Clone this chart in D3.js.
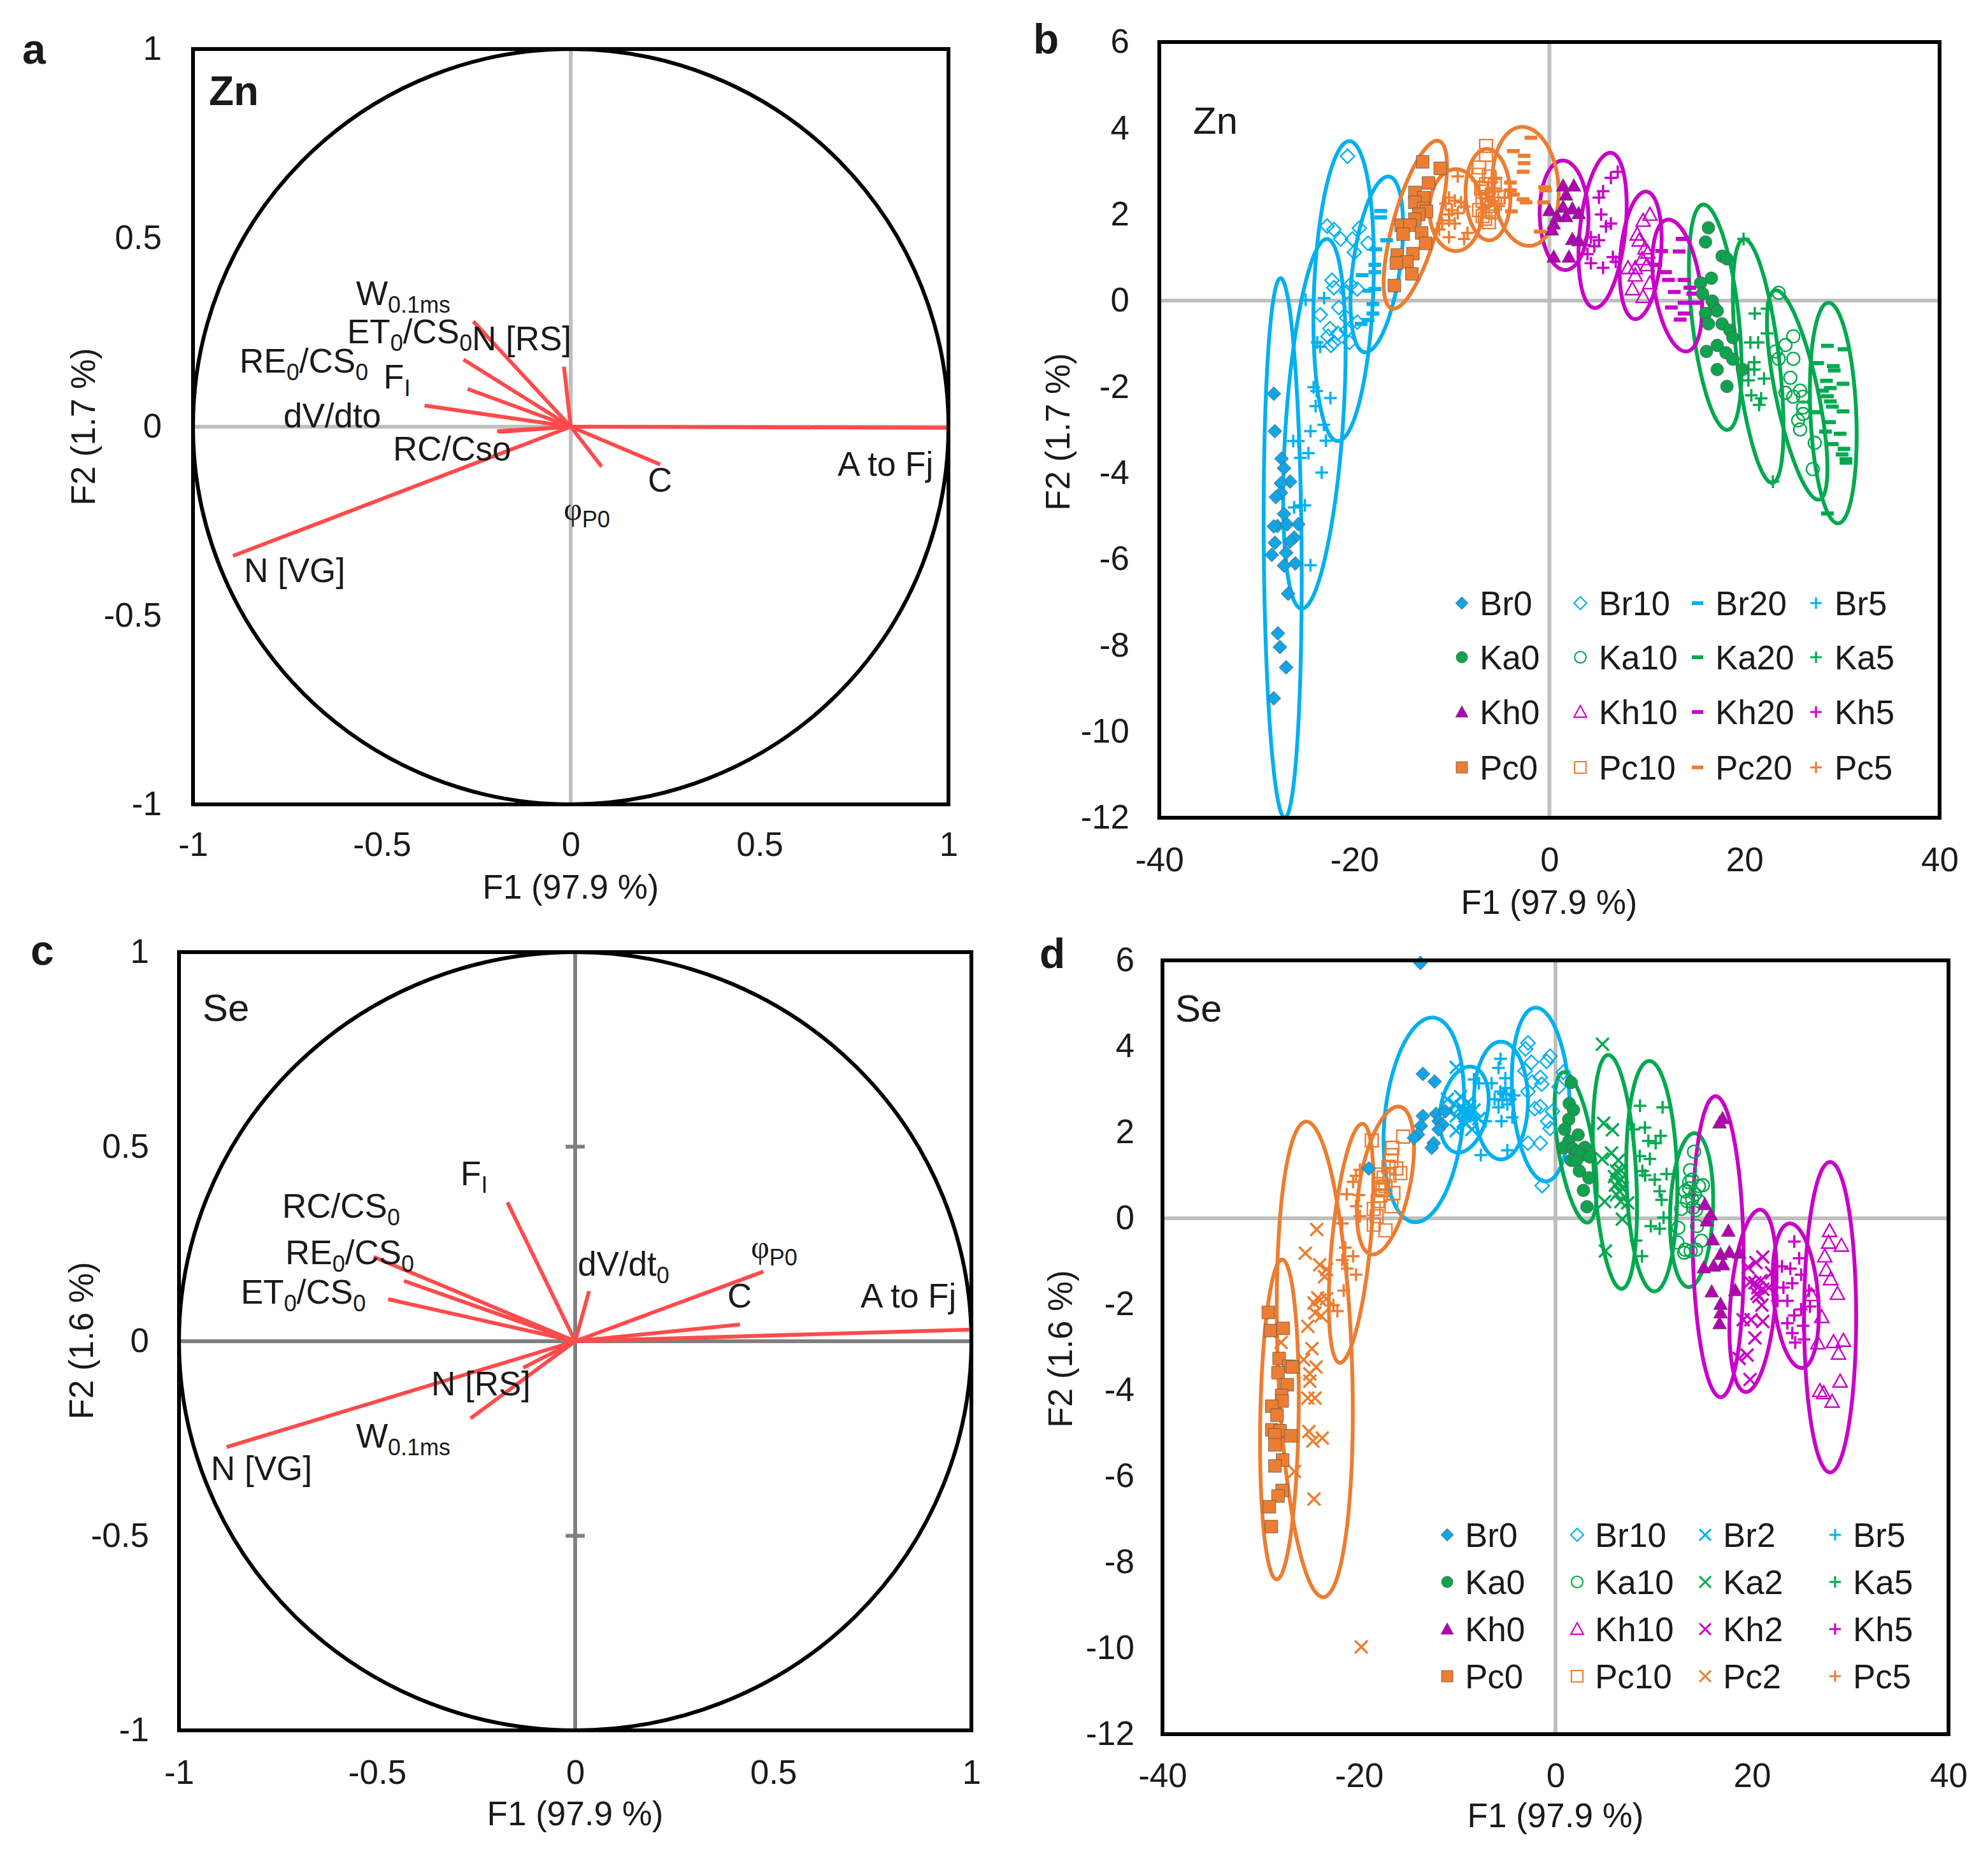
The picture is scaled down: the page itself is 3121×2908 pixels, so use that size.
<!DOCTYPE html>
<html>
<head>
<meta charset="utf-8">
<script src="https://cdn.jsdelivr.net/npm/d3@7"></script>
<style>
  html, body { margin: 0; background: #fff; }
  text { font-family: "Liberation Sans", Arial, sans-serif; fill: #1a1a1a; }
</style>
</head>
<body>
<script>
// loading plots: F1, F2 of each variable
var znVarNames = ['A to Fj', 'C', 'phi', 'N [VG]', 'N [RS]', 'W', 'ET0/CS0', 'FI', 'RE0/CS0', 'dV/dto', 'RC/Cso'];
var znVarF1 = [1.0, 0.237, 0.082, -0.894, -0.018, -0.258, -0.284, -0.273, -0.387, -0.195, -0.19];
var znVarF2 = [-0.003, -0.1, -0.106, -0.342, 0.159, 0.279, 0.178, 0.1, 0.056, -0.012, -0.014];

var seVarNames = ['A to Fj', 'C', 'phi', 'dV/dt0', 'FI', 'RC/CS0', 'RE0/CS0', 'ET0/CS0', 'N [VG]', 'W', 'N [RS]'];
var seVarF1 = [1.0, 0.416, 0.475, 0.035, -0.171, -0.509, -0.432, -0.472, -0.88, -0.264, -0.131];
var seVarF2 = [0.03, 0.043, 0.179, 0.129, 0.357, 0.217, 0.155, 0.108, -0.272, -0.198, -0.068];

var unitTicks = [-1, -0.5, 0, 0.5, 1];
var scoreTicksX = [-40, -20, 0, 20, 40];
var scoreTicksY = [-12, -10, -8, -6, -4, -2, 0, 2, 4, 6];

// score plot Zn
var znBr0 = [[-28.26,-2.16],[-28.15,-3.03],[-27.47,-3.67],[-27.21,-3.89],[-26.59,-4.2],[-27.53,-4.24],[-27.53,-4.46],[-28.05,-4.56],[-27.21,-4.95],[-27.89,-5.23],[-28.26,-5.24],[-26.9,-5.19],[-25.75,-5.19],[-26.17,-5.5],[-26.59,-5.59],[-28.15,-5.62],[-27,-5.85],[-28.47,-5.9],[-26.06,-6.1],[-27.21,-6.15],[-26.79,-6.8],[-27.84,-7.72],[-27.63,-8.04],[-27,-8.51],[-28.26,-9.23]];
var znBr5 = [[-25,0.02],[-23.1,0.06],[-23.8,-0.97],[-23.5,-1.07],[-24.18,-2.01],[-23.87,-2.1],[-22.46,-2.26],[-23.97,-2.45],[-23.13,-2.88],[-24.5,-3.03],[-22.92,-3.25],[-26.27,-3.26],[-25.75,-3.26],[-24.71,-3.54],[-25.54,-3.65],[-23.35,-3.99],[-26.17,-4.8],[-25.54,-4.75],[-25.07,-4.75],[-24.5,-6.14]];
var znBr10 = [[-20.7,3.35],[-22.8,1.73],[-22.1,1.65],[-19.5,1.68],[-21.4,1.43],[-20.2,1.43],[-18.6,1.33],[-20,1.12],[-22.3,0.47],[-22.1,0.3],[-20.4,0.37],[-20.8,0.2],[-19.7,0.27],[-23.5,-0.33],[-21.6,-0.16],[-20.8,-0.4],[-22.5,-0.65],[-22.7,-0.83],[-21.7,-0.76],[-20.8,-0.69],[-22.1,-0.97],[-20.5,-0.97],[-22.4,-1.04],[-19.7,-0.5]];
var znBr20 = [[-17.3,2.08],[-17.3,1.93],[-16.7,1.4],[-17.8,1.19],[-17.9,0.83],[-17.9,0.66],[-19.2,0.59],[-17.9,0.27],[-18.5,0.23],[-18.1,-0.08],[-18.1,-0.3],[-18.6,-0.45],[-19.3,-0.54]];
var znKa0 = [[16.3,1.69],[16,1.36],[17.7,1.03],[18.2,0.97],[16.6,0.52],[15.5,0.41],[15.7,0.16],[16.7,-0.01],[16.9,-0.16],[16,-0.3],[17.2,-0.24],[16.3,-0.54],[17.7,-0.54],[18.5,-0.69],[18.8,-0.86],[17.2,-1.04],[16.1,-1.18],[18.1,-1.21],[18.8,-1.36],[17.2,-1.6],[19.8,-1.6],[18.2,-1.99]];
var znKa5 = [[19.9,1.43],[21.05,-0.3],[22.3,-0.19],[20.6,-0.97],[22.3,-0.76],[21.4,-0.97],[21,-1.43],[20.4,-1.6],[21,-1.6],[20.4,-1.85],[22,-1.81],[20.7,-2.2],[21.7,-2.27],[21.5,-2.42],[22.9,-4.2]];
var znKa10 = [[23.5,0.18],[25,-0.83],[24.2,-1.03],[23.2,-1.18],[23.5,-1.35],[25,-1.35],[24.7,-1.79],[24.2,-2.14],[25.7,-2.09],[25,-2.23],[26,-2.23],[26,-2.48],[26,-2.63],[25.5,-2.78],[25.7,-2.99],[27.2,-3.3],[27,-3.91]];
var znKa20 = [[28.5,-1.05],[30.2,-1.13],[27.5,-1.45],[29.1,-1.52],[29.2,-1.62],[28.4,-1.86],[30.1,-1.93],[28.8,-2.03],[28,-2.09],[28.5,-2.22],[28.8,-2.34],[29,-2.46],[30.1,-2.57],[27.4,-2.59],[28.7,-2.82],[29.8,-3.09],[28.3,-3.04],[29,-3.33],[30.2,-3.44],[30,-3.57],[30.4,-3.68],[30.4,-3.76],[28.5,-4.94]];
var znKh0 = [[1.4,2.67],[2.5,2.67],[1.7,2.46],[0,2.1],[1.4,2.18],[2.35,2.14],[3,2.03],[0.76,1.96],[1.7,1.96],[0.44,1.79],[0.25,1.65],[2.35,1.43],[3,1.4],[0.44,1.02],[2,1.02]];
var znKh5 = [[7,2.99],[6.3,2.85],[5.5,2.54],[5.07,2.39],[5.3,2],[6.3,1.79],[5.8,1.72],[4.25,1.47],[5.07,1.4],[3.6,1.29],[4.6,1.26],[6.5,1.01],[3.9,1.08],[4.25,0.87],[5.5,0.76],[6.8,0.9]];
var znKh10 = [[10.3,2],[9.6,1.86],[9,1.54],[9.2,1.4],[9.8,1.22],[10.1,1.12],[9.5,0.97],[8.05,0.76],[8.8,0.76],[10,0.83],[8.8,0.59],[10.3,0.41],[8.5,0.27],[9.6,0.09]];
var znKh20 = [[13.6,1.43],[11.5,1.15],[13.3,1.14],[10.9,0.83],[11.9,0.66],[12.2,0.48],[13.8,0.48],[14.4,0.3],[12.8,0.2],[14.7,0.16],[13.8,-0.05],[15,-0.05],[12.5,-0.16],[13.8,-0.3],[13.4,-0.44]];
var znPc0 = [[-13,3.22],[-11.2,3.07],[-12.4,2.73],[-13.8,2.51],[-12.9,2.39],[-13.8,2.28],[-12.9,2.14],[-12.6,2.07],[-13.4,2],[-13.8,1.89],[-15.2,1.75],[-14.3,1.75],[-13.1,1.57],[-15,1.54],[-12.7,1.33],[-14,1.09],[-15.6,1.06],[-14.6,0.9],[-15.7,0.87],[-14.1,0.62],[-15.9,0.35]];
var znPc5 = [[-9.4,2.88],[-10.3,2.39],[-9.7,2.32],[-10.65,2.25],[-9.07,2.28],[-10,2.1],[-8.75,2.18],[-10.3,2],[-9.4,2.03],[-11,1.79],[-9.7,1.79],[-11.3,1.65],[-10.3,1.47],[-8.4,1.57],[-8.75,1.43],[-10.3,1.86],[-5.6,2.6],[-4.6,2.39],[-5.9,2.75],[-6.4,2.5],[-5.2,2.2],[-6,2.3],[-6.7,2.15],[-5.5,2.85]];
var znPc10 = [[-6.5,3.59],[-6.5,3.38],[-7.2,3.09],[-7.3,2.92],[-6.2,2.88],[-5.6,2.67],[-6.85,2.53],[-5.9,2.46],[-6.85,2.32],[-5.6,2.25],[-7.2,2.1],[-6.2,2.07],[-6.85,1.96],[-6.2,1.82],[-6.5,2.7],[-5.2,2.4],[-7,2.6],[-6.3,2.2],[-5.8,2.05],[-6.6,1.9]];
var znPc20 = [[-1.9,3.78],[-3.7,3.47],[-2.6,3.36],[-2.6,3.19],[-2.7,2.99],[-4,2.74],[-4,2.56],[-3.7,2.46],[-2.7,2.35],[-2.4,2.28],[-0.6,2.28],[-0.5,2.63],[-0.4,2.56],[-3.9,2.07],[-0.95,1.6]];

// score plot Se
var seBr0 = [[-13.75,5.94],[-13.5,3.36],[-12.3,3.18],[-13.5,2.38],[-12.15,2.43],[-13.7,2.15],[-11.9,2.26],[-11.5,2.18],[-14,1.95],[-14.4,1.87],[-11.9,2.07],[-12.4,1.75],[-12.6,1.64],[-19,1.16],[-11.2,2.49]];
var seBr2 = [[-10.1,3.51],[-11,2.77],[-9.65,2.83],[-10.3,2.66],[-8.7,2.6],[-9.4,2.49],[-8.3,2.52],[-10.8,2.49],[-9.2,2.38],[-10.1,2.38],[-8.7,2.35],[-7.8,2.32],[-10.1,2.04],[-8.5,2.07],[-9.4,2.26],[-9,2.49],[-9.6,2.6],[-8.9,2.7],[-9.1,2.2]];
var seBr5 = [[-5.6,3.71],[-5.8,3.5],[-8.3,3.23],[-7.8,3.14],[-6.5,3.14],[-5.1,3.26],[-5.1,3.03],[-5.3,2.89],[-4.2,2.86],[-6.2,2.77],[-4.6,2.77],[-5.8,2.58],[-7.1,2.26],[-4.4,2.35],[-5.5,2.26],[-4.9,1.58],[-7.6,1.47],[-5,2.9],[-5.4,2.75],[-4.9,2.65],[-5.6,2.95]];
var seBr10 = [[-2.8,4.08],[-3.05,3.94],[-0.55,3.77],[-0.9,3.65],[-2.45,3.63],[-3.1,3.43],[0.8,3.4],[-1.55,3.28],[-2.35,3.17],[-1.4,3.12],[0.36,3.06],[-2.8,2.95],[-1.55,2.6],[-0.3,2.49],[-2.1,2.55],[-0.8,2.26],[-0.55,2.09],[-2.8,1.75],[-1.55,1.75],[-1.36,0.76]];
var seKa0 = [[1.6,3.16],[1.4,2.67],[1.83,2.52],[1.34,2.3],[0.93,2.07],[2.3,1.94],[1.34,1.79],[0.8,1.64],[1.75,1.62],[2.98,1.65],[2.16,1.55],[2.57,1.46],[3.47,1.43],[1.61,1.35],[2.1,1.33],[2.43,1.1],[3.4,0.94],[2.84,0.65],[3.2,0.27]];
var seKa2 = [[4.78,4.05],[4.9,2.21],[5.8,2.06],[5.7,1.52],[4.75,1.38],[6.4,1.35],[6.66,1.11],[6,0.97],[6.66,0.9],[6.1,0.77],[6.5,0.63],[5,0.39],[6.66,0.39],[7.35,0.36],[6.8,-0.02],[5.08,-0.76],[6.2,1.1],[6.4,0.85],[6.2,0.55],[6.8,0.7]];
var seKa5 = [[8.6,2.62],[10.9,2.58],[9.1,2.11],[7.97,2.07],[10.7,1.92],[9.45,1.8],[10.2,1.75],[8.57,1.45],[9.6,1.38],[8.85,1.1],[11.3,1.03],[9.12,1],[10.1,0.9],[10.6,0.63],[10.8,0.43],[11,0.02],[9.7,-0.18],[10.6,-0.24],[8.2,-0.52],[8.8,-0.88]];
var seKa10 = [[14.1,1.55],[13.7,1.12],[13.6,0.84],[15,0.77],[13.2,0.63],[14.2,0.56],[12.8,0.22],[14.3,0.19],[12.5,-0.22],[14.4,-0.18],[12.4,-0.56],[14.85,-0.52],[13.2,-0.73],[14.3,-0.73],[13.76,-0.76],[13.1,-0.8],[13.6,0.7],[13.9,0.9],[14.6,0.75],[13.9,0.45],[14.6,0.4],[13.4,0.4],[14,0.25]];
var seKh0 = [[17,2.33],[16.7,2.23],[15.2,0.33],[15.8,0.09],[15.4,-0.05],[17.6,-0.29],[16,-0.49],[16.8,-0.83],[17.7,-0.78],[17.05,-1.07],[16.1,-1.1],[15.1,-1.14],[18.7,-0.8],[15.9,-1.7],[18.3,-1.67],[16.8,-1.99],[16.8,-2.19],[16.7,-2.44]];
var seKh2 = [[21.1,-0.9],[20.4,-1.03],[19.6,-1.14],[22,-1.27],[19.8,-1.48],[20.6,-1.61],[21.1,-1.65],[21.7,-1.61],[20.7,-1.82],[21,-2.02],[19.1,-2.36],[19.9,-2.36],[21.1,-2.4],[20.3,-2.78],[19.5,-3.18],[18.7,-3.26],[19.8,-3.75],[20.3,-1.5],[20.9,-1.45],[20.5,-1.75]];
var seKh5 = [[24.3,-0.54],[24.8,-0.93],[23.05,-1.12],[23.9,-1.17],[25,-1.31],[24.1,-1.51],[23.2,-1.61],[25.8,-1.68],[23.6,-1.92],[22.6,-1.92],[25.9,-2.05],[25,-2.12],[24.3,-2.26],[23.6,-2.44],[25.2,-2.5],[24.1,-2.67],[25.3,-2.82],[24.4,-2.89]];
var seKh10 = [[27.9,-0.29],[27.8,-0.56],[29.1,-0.63],[27.4,-0.88],[27.55,-1.2],[28,-1.41],[28.7,-1.75],[26.05,-1.78],[27.1,-2.29],[26.7,-2.9],[28.3,-2.87],[29.3,-2.84],[28.8,-3.14],[28.97,-3.79],[26.9,-4.01],[27.3,-4.06],[28.15,-4.26]];
var sePc0 = [[-29.23,-2.19],[-29.02,-2.61],[-27.72,-2.56],[-28.13,-3.26],[-27.14,-3.44],[-26.77,-3.46],[-28.24,-3.59],[-27.3,-3.87],[-27.87,-4.12],[-27.82,-4.25],[-28.87,-4.37],[-28.34,-4.58],[-28.87,-4.92],[-28.03,-4.94],[-26.93,-5.06],[-28.55,-5.04],[-28.55,-5.27],[-27.77,-5.62],[-28.55,-5.76],[-27.82,-6.33],[-28.24,-6.46],[-29.13,-6.71],[-28.92,-7.17]];
var sePc2 = [[-24.3,-0.26],[-25.46,-0.81],[-24,-1.08],[-23.3,-1.19],[-23.5,-1.36],[-24.2,-1.85],[-23.3,-1.87],[-24.58,-1.97],[-23.95,-1.9],[-24.48,-2.2],[-23.85,-2.27],[-25.21,-2.51],[-27.93,-2.89],[-24.79,-3.03],[-25.63,-3.29],[-24.37,-3.46],[-25,-3.62],[-25,-3.79],[-25.21,-4.18],[-24.48,-4.18],[-25.1,-4.96],[-23.74,-5.11],[-24.69,-5.18],[-26.56,-5.89],[-24.58,-6.53],[-19.77,-9.97]];
var sePc5 = [[-21.7,-0.12],[-21.4,-0.68],[-20.6,-0.88],[-21.7,-0.97],[-21.2,-1.17],[-20.3,-1.31],[-21.55,-1.68],[-22.2,-2.16],[-22.6,-2.02],[-19.9,1.13],[-20.3,0.99],[-20.6,0.85],[-21.25,0.56],[-20,0.54],[-20.3,0.28],[-19.9,0.05]];
var sePc10 = [[-18.7,1.81],[-15.5,1.9],[-16.6,1.64],[-16.7,1.47],[-16.7,1.33],[-16.2,1.16],[-15.8,1.05],[-17.8,1.02],[-18,0.68],[-16.5,0.59],[-17.8,0.53],[-16.7,0.28],[-18.5,0.22],[-18.5,-0.15],[-17.3,-0.28],[-17,1.2],[-17.5,0.95],[-17.9,0.8],[-17.6,0.65],[-17.3,0.75],[-16.9,1],[-18.1,0.4],[-18.2,0.05]];

// ellipses: mean F1, mean F2, spread F1, spread F2, correlation
var znEllipses = {
    Br0: [-27.35, -5.74, 1.95, 6.26, -0.11], Br5: [-24.1, -2.86, 3.2, 4.29, 0.4],
    Br10: [-21.1, 0.22, 3.1, 3.48, 0.19], Br20: [-17.7, 0.84, 2.7, 2.04, 0.43],
    Ka0: [17, -0.385, 2.7, 2.615, -0.45], Ka5: [21.4, -1.4, 2.6, 2.83, -0.55],
    Ka10: [25.4, -2.19, 3.1, 2.43, -0.7], Ka20: [29.1, -2.61, 2.4, 2.56, -0.2],
    Kh0: [1.5, 1.98, 2.5, 1.27, -0.05], Kh5: [5.45, 1.63, 2.47, 1.8, 0.32],
    Kh10: [9.35, 1.05, 2.15, 1.48, 0.25], Kh20: [13.1, 0.35, 2.55, 1.53, -0.35],
    Pc0: [-13.75, 1.76, 3.25, 1.95, 0.69], Pc5: [-9.6, 2.1, 2.7, 0.95, 0],
    Pc10: [-6.3, 2.46, 2.3, 1.06, -0.05], Pc20: [-2.45, 2.65, 3.4, 1.38, -0.1]
};
var seEllipses = {
    Br0: [-13.4, 2.29, 4.1, 2.38, 0.21], Br2: [-9.3, 2.53, 2.5, 1.0, 0.24],
    Br5: [-5.55, 2.74, 2.75, 1.37, 0], Br10: [-1.5, 2.88, 2.95, 2.02, -0.17],
    Ka0: [2.05, 1.65, 2.15, 1.75, -0.55], Ka2: [6.05, 1.08, 2.25, 2.72, -0.3],
    Ka5: [9.8, 0.98, 2.6, 2.68, -0.1], Ka10: [13.85, 0.19, 2.2, 1.79, 0.13],
    Kh0: [16.55, -0.66, 2.6, 3.5, -0.1], Kh2: [20.1, -1.92, 2.4, 2.12, 0.3],
    Kh5: [24.45, -1.8, 2.35, 1.68, -0.25], Kh10: [27.95, -2.3, 2.65, 3.61, 0],
    Pc0: [-28.1, -4.68, 1.97, 3.72, 0.14], Pc2: [-24.5, -3.28, 3.87, 5.53, -0.22],
    Pc5: [-20.8, -0.58, 2.27, 2.78, 0.5], Pc10: [-17.3, 0.88, 2.9, 1.72, 0.45]
};

var znSeries = {Br0: znBr0, Br5: znBr5, Br10: znBr10, Br20: znBr20, Ka0: znKa0, Ka5: znKa5, Ka10: znKa10, Ka20: znKa20,
    Kh0: znKh0, Kh5: znKh5, Kh10: znKh10, Kh20: znKh20, Pc0: znPc0, Pc5: znPc5, Pc10: znPc10, Pc20: znPc20};
var seSeries = {Br0: seBr0, Br2: seBr2, Br5: seBr5, Br10: seBr10, Ka0: seKa0, Ka2: seKa2, Ka5: seKa5, Ka10: seKa10,
    Kh0: seKh0, Kh2: seKh2, Kh5: seKh5, Kh10: seKh10, Pc0: sePc0, Pc2: sePc2, Pc5: sePc5, Pc10: sePc10};

var species = ['Br', 'Ka', 'Kh', 'Pc'];
var znDoses = ['0', '10', '20', '5'];
var seDoses = ['0', '10', '2', '5'];

var colors = {Br: '#00b0f0', Ka: '#00a94f', Kh: '#c800c8', Pc: '#ed7d31'};
var solidColors = {Br: '#12a5e6', Ka: '#0fa34e', Kh: '#b400b4', Pc: '#ed7d31'};
var solidShape = {Br: 'diamond', Ka: 'circle', Kh: 'triangle', Pc: 'square'};

var svg = d3.select('body').append('svg')
    .attr('width', 3121).attr('height', 2908)
    .style('display', 'block');

var FONT = 53;

function markerPath(shape) {
    var p = d3.path();
    var r = 10;
    if (shape === 'diamond') {
        p.moveTo(0, -r - 1); p.lineTo(r + 1, 0); p.lineTo(0, r + 1); p.lineTo(-r - 1, 0); p.closePath();
    } else if (shape === 'circle') {
        p.arc(0, 0, r, 0, 2 * Math.PI);
    } else if (shape === 'triangle') {
        p.moveTo(0, -r - 1); p.lineTo(r + 1, r - 1); p.lineTo(-r - 1, r - 1); p.closePath();
    } else if (shape === 'square') {
        p.rect(-r, -r, 2 * r, 2 * r);
    } else if (shape === 'plus') {
        p.moveTo(-r, 0); p.lineTo(r, 0); p.moveTo(0, -r); p.lineTo(0, r);
    } else if (shape === 'cross') {
        p.moveTo(-r, -r); p.lineTo(r, r); p.moveTo(r, -r); p.lineTo(-r, r);
    } else {
        p.moveTo(-r, 0); p.lineTo(r, 0);
    }
    return p.toString();
}

// turns a series key into its marker look
function drawMarker(sel, key) {
    var sp = key.slice(0, 2), dose = key.slice(2);
    var c = colors[sp];
    var shape, fill = 'none', stroke = c, sw = 3.5;
    if (dose === '0') {
        shape = solidShape[sp]; fill = solidColors[sp]; stroke = '#555'; sw = 0.8;
    } else if (dose === '10') {
        shape = solidShape[sp]; sw = 2.4;
    } else if (dose === '20') {
        shape = 'dash'; sw = 6.5;
    } else if (dose === '5') {
        shape = 'plus';
    } else {
        shape = 'cross';
    }
    sel.attr('d', markerPath(shape)).attr('fill', fill).attr('stroke', stroke).attr('stroke-width', sw);
}

function frameAxes(g, x, y, ticksX, ticksY, padX, padY, axisColor) {
    var r = x.range(), b = y.range();
    g.append('line').attr('x1', r[0]).attr('x2', r[1]).attr('y1', y(0)).attr('y2', y(0))
        .attr('stroke', axisColor).attr('stroke-width', 6);
    g.append('line').attr('x1', x(0)).attr('x2', x(0)).attr('y1', b[0]).attr('y2', b[1])
        .attr('stroke', axisColor).attr('stroke-width', 6);

    var ax = d3.axisBottom(x).tickValues(ticksX).tickSize(0).tickPadding(padX).tickFormat(String);
    var ay = d3.axisLeft(y).tickValues(ticksY).tickSize(0).tickPadding(padY).tickFormat(String);
    var gx = g.append('g').attr('transform', 'translate(0,' + b[0] + ')').call(ax);
    var gy = g.append('g').attr('transform', 'translate(' + r[0] + ',0)').call(ay);
    [gx, gy].forEach(function (a) {
        a.select('.domain').remove();
        a.selectAll('text').style('font-family', '"Liberation Sans"').style('font-size', FONT + 'px').attr('fill', '#1a1a1a');
    });
}

function frameRect(g, x, y) {
    g.append('rect')
        .attr('x', x.range()[0]).attr('y', y.range()[1])
        .attr('width', x.range()[1] - x.range()[0]).attr('height', y.range()[0] - y.range()[1])
        .attr('fill', 'none').attr('stroke', '#000').attr('stroke-width', 6);
}

function axisTitles(g, xTitle, xPos, yTitle, yPos) {
    g.append('text').attr('x', xPos[0]).attr('y', xPos[1]).attr('text-anchor', 'middle')
        .attr('dominant-baseline', 'central').style('font-size', FONT + 'px').text(xTitle);
    g.append('text').attr('text-anchor', 'middle').attr('dominant-baseline', 'central')
        .attr('transform', 'translate(' + yPos[0] + ',' + yPos[1] + ') rotate(-90)')
        .style('font-size', FONT + 'px').text(yTitle);
}

// label with subscripts: parts are [text, isSub]
function richLabel(g, x, y, parts, size) {
    var t = g.append('text').attr('x', x).attr('y', y).style('font-size', (size || FONT) + 'px');
    var down = false;
    parts.forEach(function (p) {
        var s = t.append('tspan').text(p[0]);
        if (p[1] === 'phi') {
            s.style('font-family', '"Liberation Serif"').style('font-size', '50px');
        } else if (p[1]) {
            s.style('font-size', '36px').attr('dy', down ? null : 12);
            down = true;
        } else if (down) {
            s.attr('dy', -12);
            down = false;
        }
    });
}

function loadingPanel(box, names, f1, f2, axisColor, padX, padY) {
    var g = svg.append('g');
    var x = d3.scaleLinear().domain([-1, 1]).range([box[0], box[1]]);
    var y = d3.scaleLinear().domain([-1, 1]).range([box[3], box[2]]);
    frameAxes(g, x, y, unitTicks, unitTicks, padX, padY, axisColor);
    g.append('ellipse')
        .attr('cx', x(0)).attr('cy', y(0))
        .attr('rx', x(1) - x(0)).attr('ry', y(-1) - y(0))
        .attr('fill', 'none').attr('stroke', '#000').attr('stroke-width', 6);
    g.selectAll('line.vec').data(names).enter().append('line')
        .attr('class', 'vec')
        .attr('x1', x(0)).attr('y1', y(0))
        .attr('x2', function (d, i) { return x(f1[i]); })
        .attr('y2', function (d, i) { return y(f2[i]); })
        .attr('stroke', '#ff4b4b').attr('stroke-width', 6);
    frameRect(g, x, y);
    return {g: g, x: x, y: y};
}

function scorePanel(box, series, ellipses, doses, padX, padY, legendCols, legendText, legendRows) {
    var g = svg.append('g');
    var x = d3.scaleLinear().domain([-40, 40]).range([box[0], box[1]]);
    var y = d3.scaleLinear().domain([-12, 6]).range([box[3], box[2]]);
    frameAxes(g, x, y, scoreTicksX, scoreTicksY, padX, padY, '#bfbfbf');

    var keys = Object.keys(series);
    var ell = d3.line().curve(d3.curveLinearClosed)
        .x(function (d) { return x(d[0]); })
        .y(function (d) { return y(d[1]); });
    var angles = d3.range(0, 2 * Math.PI, Math.PI / 90);
    keys.forEach(function (k) {
        var e = ellipses[k];
        var ring = angles.map(function (t) {
            return [e[0] + e[2] * Math.cos(t),
                    e[1] + e[3] * (e[4] * Math.cos(t) + Math.sqrt(1 - e[4] * e[4]) * Math.sin(t))];
        });
        g.append('path').attr('d', ell(ring)).attr('fill', 'none')
            .attr('stroke', colors[k.slice(0, 2)]).attr('stroke-width', 6);
    });
    // open markers first so the solid ones stay readable
    keys.slice().sort(function (a, b) { return (a.slice(2) === '0') - (b.slice(2) === '0'); }).forEach(function (k) {
        g.append('g').selectAll('path').data(series[k]).enter().append('path')
            .attr('transform', function (d) { return 'translate(' + x(d[0]) + ',' + y(d[1]) + ')'; })
            .call(drawMarker, k);
    });
    frameRect(g, x, y);

    species.forEach(function (sp, row) {
        doses.forEach(function (dose, col) {
            var key = sp + dose;
            g.append('path').attr('transform', 'translate(' + legendCols[col] + ',' + legendRows[row] + ') scale(0.9)')
                .call(drawMarker, key);
            g.append('text').attr('x', legendText[col]).attr('y', legendRows[row])
                .attr('dominant-baseline', 'central').style('font-size', FONT + 'px').text(key);
        });
    });
    return {g: g, x: x, y: y};
}

// a
var a = loadingPanel([303, 1489, 77, 1263], znVarNames, znVarF1, znVarF2, '#bfbfbf', 43, 49);
axisTitles(a.g, 'F1 (97.9 %)', [896, 1392], 'F2 (1.7 %)', [130, 670]);
richLabel(a.g, 559, 479, [['W'], ['0.1ms', true]]);
richLabel(a.g, 545, 539, [['ET'], ['0', true], ['/CS'], ['0', true]]);
richLabel(a.g, 741, 550, [['N [RS]']]);
richLabel(a.g, 376, 585, [['RE'], ['0', true], ['/CS'], ['0', true]]);
richLabel(a.g, 602, 610, [['F'], ['I', true]]);
richLabel(a.g, 445, 671, [['dV/dto']]);
richLabel(a.g, 617, 723, [['RC/Cso']]);
richLabel(a.g, 1315, 747, [['A to Fj']]);
richLabel(a.g, 1017, 772, [['C']]);
richLabel(a.g, 885, 816, [['\u03c6', 'phi'], ['P0', true]]);
richLabel(a.g, 383, 914, [['N [VG]']]);
a.g.append('text').attr('x', 328).attr('y', 165).style('font-size', '64px').style('font-weight', 'bold').text('Zn');
svg.append('text').attr('x', 35).attr('y', 100).style('font-size', '66px').style('font-weight', 'bold').text('a');

// b
var b = scorePanel([1820, 3045, 66, 1284], znSeries, znEllipses, znDoses, 46, 47,
    [2295, 2481, 2665, 2851], [2323, 2510, 2693, 2880], [947, 1032, 1118, 1205]);
axisTitles(b.g, 'F1 (97.9 %)', [2432, 1416], 'F2 (1.7 %)', [1660, 678]);
b.g.append('text').attr('x', 1873).attr('y', 210).style('font-size', '60px').text('Zn');
svg.append('text').attr('x', 1622).attr('y', 84).style('font-size', '66px').style('font-weight', 'bold').text('b');

// c
var c = loadingPanel([281, 1525, 1495, 2717], seVarNames, seVarF1, seVarF2, '#7f7f7f', 46, 47);
c.g.selectAll('line.half').data([-0.5, 0.5]).enter().append('line')
    .attr('class', 'half')
    .attr('x1', c.x(0) - 15).attr('x2', c.x(0) + 15)
    .attr('y1', function (d) { return c.y(d); }).attr('y2', function (d) { return c.y(d); })
    .attr('stroke', '#7f7f7f').attr('stroke-width', 6);
axisTitles(c.g, 'F1 (97.9 %)', [903, 2847], 'F2 (1.6 %)', [127, 2105]);
richLabel(c.g, 723, 1861, [['F'], ['I', true]]);
richLabel(c.g, 443, 1912, [['RC/CS'], ['0', true]]);
richLabel(c.g, 448, 1985, [['RE'], ['0', true], ['/CS'], ['0', true]]);
richLabel(c.g, 378, 2047, [['ET'], ['0', true], ['/CS'], ['0', true]]);
richLabel(c.g, 907, 2003, [['dV/dt'], ['0', true]]);
richLabel(c.g, 1179, 1975, [['\u03c6', 'phi'], ['P0', true]]);
richLabel(c.g, 1142, 2053, [['C']]);
richLabel(c.g, 1351, 2053, [['A to Fj']]);
richLabel(c.g, 677, 2191, [['N [RS]']]);
richLabel(c.g, 559, 2273, [['W'], ['0.1ms', true]]);
richLabel(c.g, 331, 2324, [['N [VG]']]);
c.g.append('text').attr('x', 318).attr('y', 1603).style('font-size', '60px').text('Se');
svg.append('text').attr('x', 48).attr('y', 1515).style('font-size', '66px').style('font-weight', 'bold').text('c');

// d
var d_ = scorePanel([1825, 3059, 1508, 2723], seSeries, seEllipses, seDoses, 45, 44,
    [2272, 2476, 2677, 2881], [2300, 2504, 2705, 2909], [2410, 2484, 2558, 2632]);
axisTitles(d_.g, 'F1 (97.9 %)', [2442, 2850], 'F2 (1.6 %)', [1664, 2118]);
d_.g.append('text').attr('x', 1845).attr('y', 1604).style('font-size', '60px').text('Se');
svg.append('text').attr('x', 1632).attr('y', 1520).style('font-size', '66px').style('font-weight', 'bold').text('d');
</script>
</body>
</html>
